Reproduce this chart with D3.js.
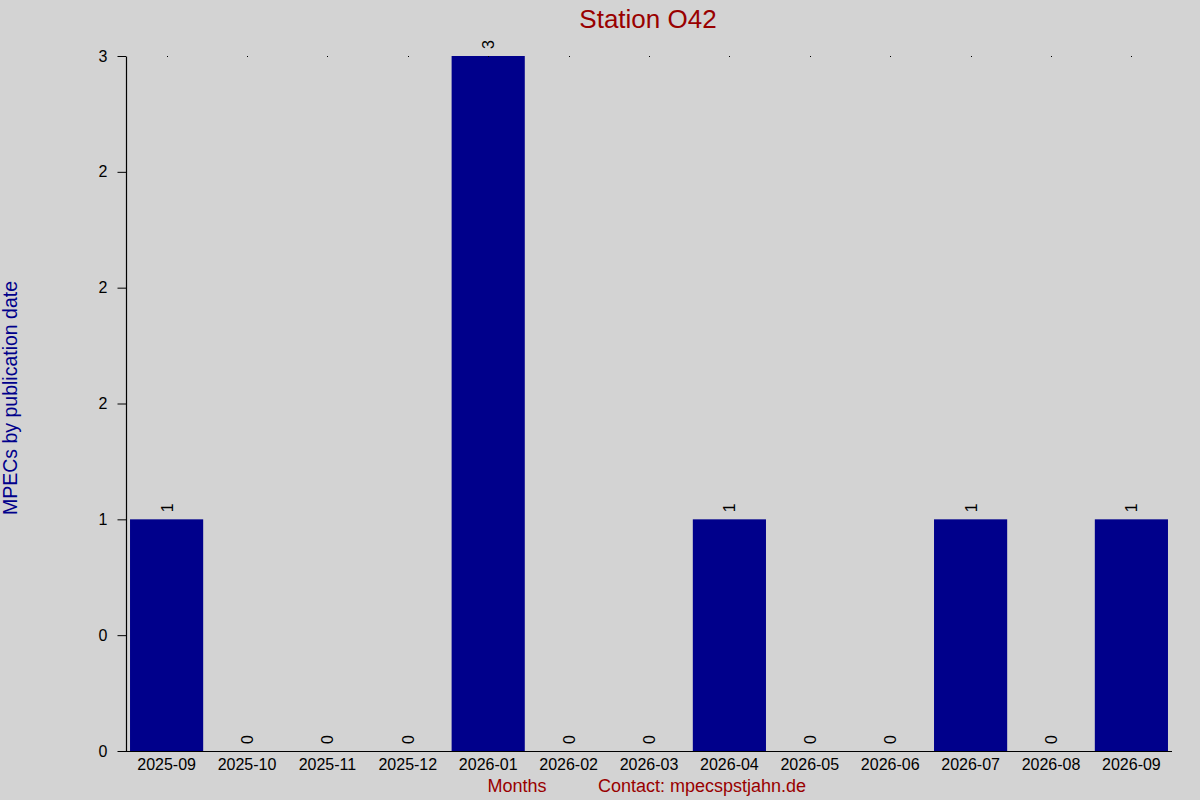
<!DOCTYPE html>
<html>
<head>
<meta charset="utf-8">
<script src="https://cdn.jsdelivr.net/npm/d3@7"></script>
<style>
  body { margin: 0; background: #d3d3d3; }
  text { font-family: "Liberation Sans", Arial, sans-serif; }
</style>
</head>
<body>
<script>
var width = 1200;
var height = 800;

var months = ["2025-09", "2025-10", "2025-11", "2025-12", "2026-01", "2026-02", "2026-03",
              "2026-04", "2026-05", "2026-06", "2026-07", "2026-08", "2026-09"];
var counts = [1, 0, 0, 0, 3, 0, 0, 1, 0, 0, 1, 0, 1];

// y ticks every half step, labels come out rounded like in the original
var yTickValues = [0, 0.5, 1, 1.5, 2, 2.5, 3];
var yTickLabels = ["0", "0", "1", "2", "2", "2", "3"];

var titleText = "Station O42";
var yTitle = "MPECs by publication date";
var xTitle = "Months";
var contactText = "Contact: mpecspstjahn.de";

// note: "top" is taken by window.top, so plot edges get their own names
var plotLeft = 126, plotRight = 1172, plotTop = 56, plotBottom = 751;

var svg = d3.select("body")
            .append("svg")
            .attr("width", width)
            .attr("height", height);

svg.append("rect")
    .attr("width", width)
    .attr("height", height)
    .attr("fill", "#d3d3d3");

var x = d3.scaleBand()
          .domain(months)
          .range([plotLeft, plotRight])
          .paddingInner(0.09)
          .paddingOuter(0.05);

var y = d3.scaleLinear()
          .domain([0, 3])
          .range([plotBottom, plotTop]);

// bars
svg.selectAll("rect.bar")
    .data(months)
    .enter()
    .append("rect")
    .attr("class", "bar")
    .attr("x", m => x(m))
    .attr("width", x.bandwidth())
    .attr("y", (m, i) => y(counts[i]))
    .attr("height", (m, i) => plotBottom - y(counts[i]))
    .attr("fill", "#00008b");

// little dots at the top of every column
svg.selectAll("rect.dot")
    .data(months)
    .enter()
    .append("rect")
    .attr("class", "dot")
    .attr("x", m => Math.round(x(m) + x.bandwidth() / 2))
    .attr("y", Math.round(y(3)))
    .attr("width", 1)
    .attr("height", 1)
    .attr("fill", "black");

// value labels, rotated
svg.selectAll("text.val")
    .data(months)
    .enter()
    .append("text")
    .attr("class", "val")
    .attr("transform", (m, i) => "translate(" + (x(m) + x.bandwidth() / 2 + 6) + "," + (y(counts[i]) - 7) + ") rotate(-90)")
    .attr("font-size", "16px")
    .attr("fill", "black")
    .text((m, i) => counts[i]);

// axes
var yAxis = d3.axisLeft(y)
              .tickValues(yTickValues)
              .tickFormat((d, i) => yTickLabels[i])
              .tickSize(8.5)
              .tickSizeOuter(0)
              .tickPadding(10);

var gy = svg.append("g")
            .attr("transform", "translate(" + plotLeft + ",0)")
            .call(yAxis);
gy.selectAll("text").attr("font-size", "16px").attr("font-family", "Liberation Sans, Arial, sans-serif").attr("fill", "black");
gy.selectAll("line").attr("stroke", "black");
gy.select(".domain").attr("stroke", "black").attr("stroke-width", 1.2);

var xAxis = d3.axisBottom(x)
              .tickSize(0)
              .tickSizeOuter(0)
              .tickPadding(7.6);

var gx = svg.append("g")
            .attr("transform", "translate(0," + plotBottom + ")")
            .call(xAxis);
gx.selectAll("text").attr("font-size", "16px").attr("font-family", "Liberation Sans, Arial, sans-serif").attr("fill", "black");
gx.select(".domain").attr("stroke", "black").attr("d", "M" + plotLeft + ",0.5H" + plotRight);

// titles
svg.append("text")
    .attr("x", 648)
    .attr("y", 28)
    .attr("text-anchor", "middle")
    .attr("font-size", "26px")
    .attr("fill", "#990000")
    .text(titleText);

svg.append("text")
    .attr("transform", "translate(17,398) rotate(-90)")
    .attr("text-anchor", "middle")
    .attr("font-size", "19.5px")
    .attr("fill", "#00008b")
    .text(yTitle);

svg.append("text")
    .attr("x", 517)
    .attr("y", 792)
    .attr("text-anchor", "middle")
    .attr("font-size", "18px")
    .attr("fill", "#990000")
    .text(xTitle);

svg.append("text")
    .attr("x", 598)
    .attr("y", 792)
    .attr("font-size", "18px")
    .attr("fill", "#990000")
    .text(contactText);
</script>
</body>
</html>
